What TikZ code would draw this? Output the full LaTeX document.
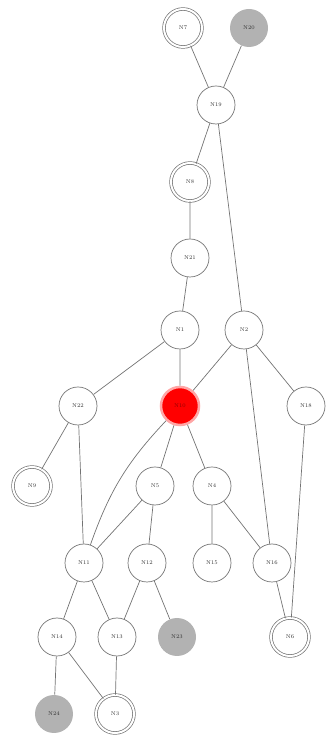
\documentclass[tikz,border=0pt]{standalone}
\begin{document}
\begin{tikzpicture}[x=1pt,y=1pt,
  gnode/.style={circle,draw=black!55,line width=0.7pt,minimum size=38pt,inner sep=0pt,
                font=\fontsize{5.5}{6}\selectfont,text=black!80},
  dbl/.style={gnode,double=white,double distance=2pt,minimum size=38pt},
  grey/.style={gnode,draw=none,fill=black!30},
  hot/.style={gnode,fill=red,draw=red!35,line width=2.5pt,text=red!55!black},
  link/.style={draw=black!55,line width=0.7pt}]
\useasboundingbox (0,0) rectangle (330,736);
% nodes (y counted upward)
\node[dbl]  (N7)  at (183,708) {N7};
\node[grey] (N20) at (249,708) {N20};
\node[gnode](N19) at (216,631) {N19};
\node[dbl]  (N8)  at (190,554) {N8};
\node[gnode](N21) at (190,478) {N21};
\node[gnode](N1)  at (180,406) {N1};
\node[gnode](N2)  at (244,406) {N2};
\node[gnode](N22) at (78,330)  {N22};
\node[hot]  (N10) at (180,330) {N10};
\node[gnode](N18) at (306,330) {N18};
\node[dbl]  (N9)  at (32,250)  {N9};
\node[gnode](N5)  at (155,250) {N5};
\node[gnode](N4)  at (212,250) {N4};
\node[gnode](N11) at (84,173)  {N11};
\node[gnode](N12) at (147,173) {N12};
\node[gnode](N15) at (212,173) {N15};
\node[gnode](N16) at (272,173) {N16};
\node[gnode](N14) at (57,99)   {N14};
\node[gnode](N13) at (117,99)  {N13};
\node[grey] (N23) at (177,99)  {N23};
\node[dbl]  (N6)  at (290,99)  {N6};
\node[grey] (N24) at (54,22)   {N24};
\node[dbl]  (N3)  at (115,22)  {N3};
% edges
\path[link]
  (N7) -- (N19)  (N20) -- (N19)  (N19) -- (N8)  (N19) -- (N2)
  (N8) -- (N21)  (N21) -- (N1)   (N1) -- (N22)  (N1) -- (N10)
  (N2) -- (N10)  (N2) -- (N16)   (N2) -- (N18)
  (N22) -- (N9)  (N22) -- (N11)
  (N10) -- (N5)  (N10) -- (N4)
  (N5) -- (N11)  (N5) -- (N12)   (N4) -- (N15)  (N4) -- (N16)
  (N18) -- (N6)  (N16) -- (N6)
  (N11) -- (N14) (N11) -- (N13)  (N12) -- (N13) (N12) -- (N23)
  (N14) -- (N24) (N14) -- (N3)   (N13) -- (N3);
\draw[link] (N10) to[bend right=12] (N11);
\end{tikzpicture}
\end{document}
